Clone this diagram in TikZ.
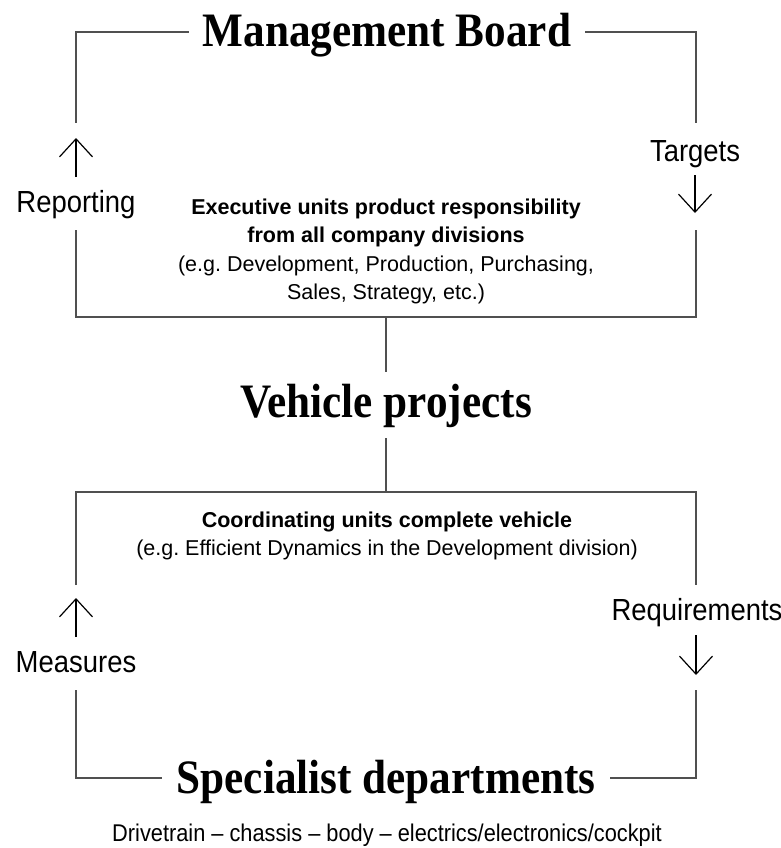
\documentclass[tikz,border=0pt]{standalone}
\usepackage{fontspec}
\usetikzlibrary{arrows.meta}
\newfontfamily\titlefont[FakeStretch=0.9]{Liberation Serif}
\newfontfamily\labfont[FakeStretch=0.9]{Liberation Sans}
\newfontfamily\bodyfont{Liberation Sans}
\definecolor{linegray}{RGB}{80,80,80}
\frenchspacing
\begin{document}
\begin{tikzpicture}[x=1pt,y=-1pt,
  lbox/.style={draw=linegray, line width=1.3pt},
  arr/.style={draw=black, line width=1.2pt, -{Straight Barb[length=18pt,width=33pt]}},
  mytitle/.style={font=\titlefont\bfseries\fontsize{48}{52}\selectfont, inner xsep=14pt, inner ysep=0pt},
  lab/.style={font=\labfont\fontsize{30.5}{34}\selectfont, inner sep=0pt},
  bodyr/.style={font=\bodyfont\fontsize{21.5}{26}\selectfont, inner sep=0pt},
  bodyb/.style={font=\bodyfont\bfseries\fontsize{21.5}{26}\selectfont, inner sep=0pt},
  foot/.style={font=\labfont\fontsize{24.2}{28}\selectfont, inner sep=0pt}
]
\useasboundingbox (0,0) rectangle (781,848);

% titles
\node[mytitle, anchor=base] (mb) at (387,47) {Management Board};
\node[mytitle, anchor=base, inner ysep=11pt] (vp) at (386,417) {Vehicle projects};
\node[mytitle, anchor=base] (sd) at (386,793) {Specialist departments};

% side labels
\node[lab, anchor=base] (rep) at (76,212) {Reporting};
\node[lab, anchor=base] (tgt) at (695,161) {Targets};
\node[lab, anchor=base] (mea) at (76,672) {Measures};
\node[lab, anchor=base] (req) at (697,620) {Requirements};

% body texts
\node[bodyb, anchor=base] (e1) at (386,214) {Executive units product responsibility};
\node[bodyb, anchor=base] (e2) at (386,242) {from all company divisions};
\node[bodyr, anchor=base] (e3) at (386,271) {(e.g. Development, Production, Purchasing,};
\node[bodyr, anchor=base] (e4) at (386,299) {Sales, Strategy, etc.)};
\node[bodyb, anchor=base] (c1) at (387,527) {Coordinating units complete vehicle};
\node[bodyr, anchor=base] (c2) at (387,555) {(e.g. Efficient Dynamics in the Development division)};
\node[foot, anchor=base] (dt) at (387,841) {Drivetrain – chassis – body – electrics/electronics/cockpit};

% coordinates
\coordinate (tl) at (76,32);
\coordinate (tr) at (696,32);
\coordinate (ul1) at (76,123);
\coordinate (ul2) at (76,230);
\coordinate (ur1) at (696,123);
\coordinate (ur2) at (696,230);
\coordinate (bl) at (76,317);
\coordinate (br) at (696,317);
\coordinate (m1) at (386,317);
\coordinate (m4) at (386,492);
\coordinate (lt) at (76,492);
\coordinate (rt) at (696,492);
\coordinate (ll1) at (76,585);
\coordinate (ll2) at (76,690);
\coordinate (rr1) at (696,585);
\coordinate (rr2) at (696,690);
\coordinate (lb) at (76,778);
\coordinate (rb) at (696,778);

\coordinate (ra1) at (76,177);
\coordinate (ra2) at (76,138);
\coordinate (ta1) at (695,175);
\coordinate (ta2) at (695,213);
\coordinate (ma1) at (76,637);
\coordinate (ma2) at (76,598);
\coordinate (qa1) at (696,635);
\coordinate (qa2) at (696,675);

% upper frame
\draw[lbox] (mb.west |- tl) -- (tl) -- (ul1);
\draw[lbox] (mb.east |- tr) -- (tr) -- (ur1);
\draw[lbox] (ul2) -- (bl) -- (br) -- (ur2);

% middle connector
\draw[lbox] (m1) -- (vp.north);
\draw[lbox] (vp.south) -- (m4);

% lower frame
\draw[lbox] (ll1) -- (lt) -- (rt) -- (rr1);
\draw[lbox] (ll2) -- (lb) -- (sd.west |- lb);
\draw[lbox] (rr2) -- (rb) -- (sd.east |- rb);

% arrows
\draw[arr] (ra1) -- (ra2);
\draw[arr] (ta1) -- (ta2);
\draw[arr] (ma1) -- (ma2);
\draw[arr] (qa1) -- (qa2);
\end{tikzpicture}
\end{document}
